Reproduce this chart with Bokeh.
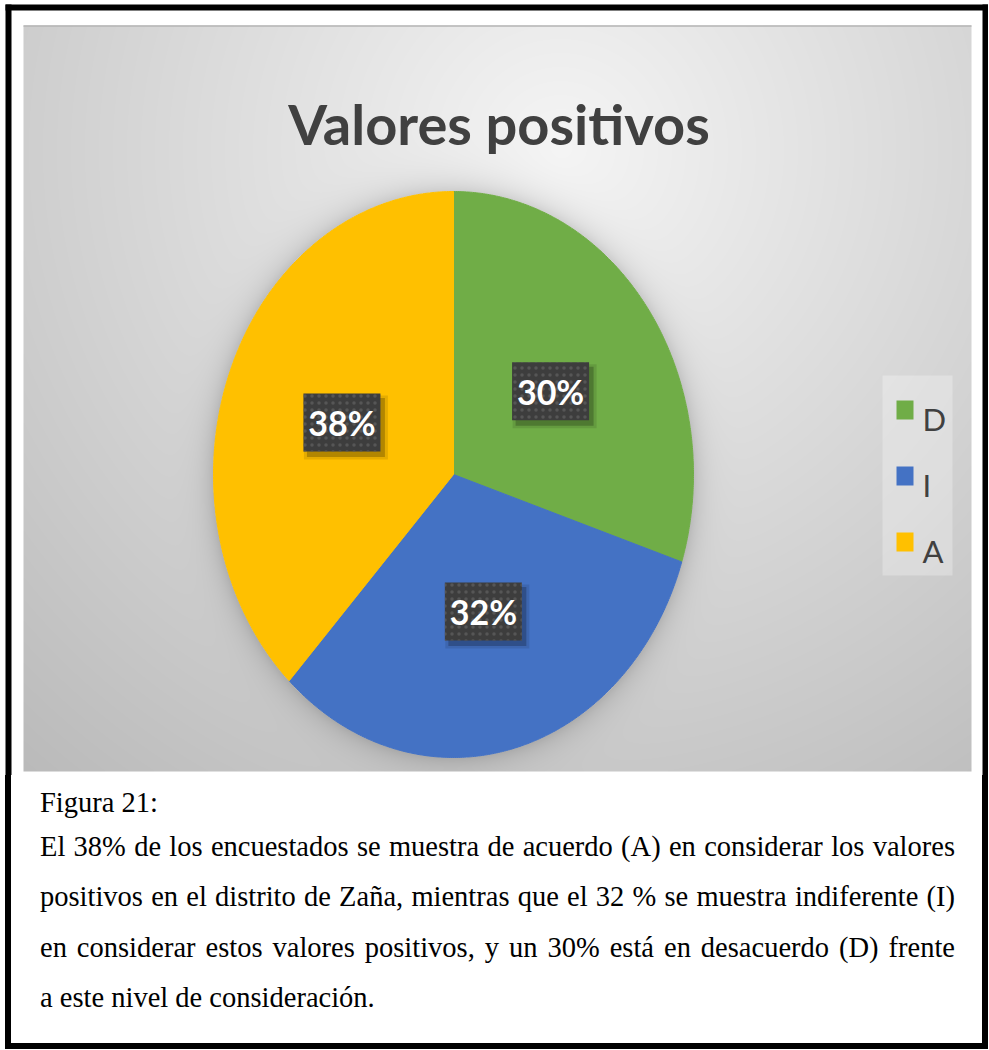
import numpy as np
from bokeh.plotting import figure
from bokeh.models import Range1d, ColumnDataSource, Label, Div
from bokeh.layouts import column
from bokeh.embed import file_html
from bokeh.resources import INLINE
from bokeh.core.properties import value

# ---------------- data ----------------
categories = ["D", "I", "A"]
percentages = [30, 32, 38]
slice_colors = ["#70AD47", "#4472C4", "#FFC000"]
title_text = "Valores positivos"
caption_head = "Figura 21:"
caption_lines = [
    "El 38% de los encuestados se muestra de acuerdo (A) en considerar los valores",
    "positivos en el distrito de Zaña, mientras que el 32 % se muestra indiferente (I)",
    "en considerar estos valores positivos, y un 30% está en desacuerdo (D) frente",
    "a este nivel de consideración.",
]

# ---------------- layout (page pixel frame; bokeh page has no body margin) ----------------
W = 988
H = 775          # figure covers page y 0..775
TOTAL_H = 1049


def Y(py):
    return H - np.asarray(py, dtype=float)


p = figure(width=W, height=H, x_range=Range1d(0, W), y_range=Range1d(0, H),
           output_backend="svg", toolbar_location=None, min_border=0,
           x_axis_type=None, y_axis_type=None)
p.grid.visible = False
p.outline_line_color = None
p.background_fill_color = "white"
p.border_fill_color = "white"

# chart area background (radial gray gradient + soft pie shadow)
gx0, gx1, gy0, gy1 = 23, 971, 25, 771
gw, gh = gx1 - gx0, gy1 - gy0
cx, cy, rx, ry = 453.0, 474.0, 240.0, 283.0
xs = gx0 + np.arange(gw) + 0.5
ys = gy1 - (np.arange(gh) + 0.5)
XX, YY = np.meshgrid(xs, ys)
d = np.sqrt(((XX - 560) / 700.0) ** 2 + ((YY - 150) / 700.0) ** 2)
shade = 245 - 50 * np.clip(d, 0, 1.3)
re = np.sqrt(((XX - cx) / rx) ** 2 + ((YY - cy) / ry) ** 2)
dist = (re - 1) * 260
shade = shade - np.where(dist > 0, 32 * np.exp(-np.clip(dist, 0, None) / 12.0), 0)
v = np.clip(shade, 0, 255).astype(np.uint32)
img = (v | (v << 8) | (v << 16) | np.uint32(0xFF000000)).astype(np.uint32)
p.image_rgba(image=[img], x=gx0, y=float(Y(gy1)), dw=gw, dh=gh)
p.segment(x0=[gx0], y0=[float(Y(gy0 + 0.5))], x1=[gx1], y1=[float(Y(gy0 + 0.5))],
          line_color="#b4b4b4", line_width=1.5)

# pie slices (ellipse, clockwise from 12 o'clock)
fr = np.array(percentages, dtype=float) / sum(percentages)
ends = np.cumsum(fr) * 2 * np.pi
starts = ends - fr * 2 * np.pi
xs_list, ys_list = [], []
for a0, a1 in zip(starts, ends):
    t = np.linspace(a0, a1, 240)
    px = np.concatenate([[cx], cx + rx * np.sin(t)])
    py = np.concatenate([[cy], cy - ry * np.cos(t)])
    xs_list.append(px.tolist())
    ys_list.append(Y(py).tolist())
src = ColumnDataSource(dict(xs=xs_list, ys=ys_list, color=slice_colors, cat=categories))
pie = p.patches("xs", "ys", source=src, fill_color="color", line_color="color", line_width=1)

# data labels
mid = (starts + ends) / 2
lx = cx + 0.5 * rx * np.sin(mid)
ly = cy - 0.5 * ry * np.cos(mid)
lab_src = ColumnDataSource(dict(x=lx, y=Y(ly), sx=lx + 4, sy=Y(ly + 5),
                                txt=[f"{v_}%" for v_ in percentages]))
p.rect("sx", "sy", width=84, height=64, source=lab_src, fill_color="black",
       fill_alpha=0.10, line_color=None)
p.rect("sx", "sy", width=78, height=59, source=lab_src, fill_color="black",
       fill_alpha=0.22, line_color=None)
p.rect("x", "y", width=77, height=58, source=lab_src, fill_color="#3d3d3d",
       line_color=None, hatch_pattern="dot", hatch_color="#5c5c5c",
       hatch_scale=7, hatch_weight=1.2, hatch_alpha=0.8)
p.text("x", "y", text="txt", source=lab_src, text_align="center", text_baseline="middle",
       text_font=value("Lato"), text_font_style="bold", text_font_size="34px",
       text_color="white")

# title
p.add_layout(Label(x=498.5, y=float(Y(123)), text=title_text, text_align="center",
                   text_baseline="alphabetic", text_font="Lato", text_font_style="bold",
                   text_font_size="56px", text_color="#404040"))

# legend (drawn from the category / colour arrays)
p.quad(left=[882], right=[952], top=[float(Y(375))], bottom=[float(Y(575))],
       fill_color="white", fill_alpha=0.28, line_color=None)
leg_y = 409.5 + 66 * np.arange(len(categories))
leg_src = ColumnDataSource(dict(x=np.full(len(categories), 904.5), y=Y(leg_y),
                                tx=np.full(len(categories), 922.0), ty=Y(leg_y + 9),
                                color=slice_colors, cat=categories))
p.rect("x", "y", width=17, height=19, source=leg_src, fill_color="color", line_color=None)
p.text("tx", "ty", text="cat", source=leg_src, text_align="left", text_baseline="alphabetic",
       text_font=value("Lato"), text_font_size="31px", text_color="#404040")

# outer frame (upper part)
p.quad(left=[5, W - 6, 5], right=[11, W, W], top=[float(Y(4))] * 3,
       bottom=[0, 0, float(Y(10))], fill_color="black", line_color=None)

# ---------------- caption ----------------
DIV_TOP = H
DIV_H = TOTAL_H - DIV_TOP
FS = 28.5
BASE_OFF = 34.6
baselines = [813, 857, 907, 958, 1008]
texts = [caption_head] + caption_lines
just = [False, True, True, True, False]
parts = []
for txt, b, j in zip(texts, baselines, just):
    top = b - BASE_OFF - DIV_TOP
    align = "text-align:justify;text-align-last:justify;" if j else "text-align:left;"
    parts.append(f'<div style="position:absolute;left:29px;width:915px;top:{top:.1f}px;'
                 f'height:50px;line-height:50px;margin:0;padding:0;{align}">{txt}</div>')
html = ('<div style="position:relative;box-sizing:border-box;width:%dpx;height:%dpx;'
        'margin:0 0 0 5px;padding:0;'
        'border-left:6px solid #000;border-right:6px solid #000;border-bottom:6px solid #000;'
        'background:#fff;font-family:\'Liberation Serif\',\'Times New Roman\',serif;'
        'font-size:%spx;color:#000;">' % (W - 5, DIV_H, FS)
        + "".join(parts) + "</div>")
div = Div(text=html, width=W, height=DIV_H, margin=0)

layout = column(p, div, spacing=0)
open("out.html", "w").write(file_html(layout, INLINE))
